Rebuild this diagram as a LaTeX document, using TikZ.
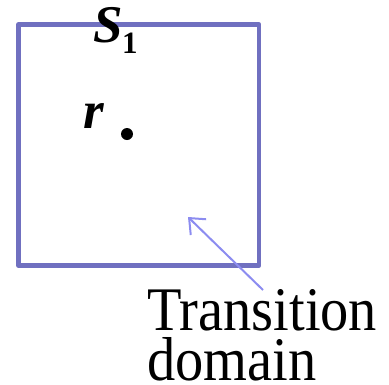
\documentclass[tikz,border=0pt]{standalone}
\usepackage{fontspec}
\setmainfont{Liberation Serif}
\newfontfamily\labfont[FakeStretch=0.91]{Liberation Serif}
\usetikzlibrary{arrows.meta}
\definecolor{boxcol}{RGB}{112,112,192}
\definecolor{arrcol}{RGB}{140,140,240}
\tikzset{
  boxstyle/.style={draw=boxcol, line width=4.5pt, line join=round},
  arrstyle/.style={draw=arrcol, line width=2pt, -{Straight Barb[length=13pt,width=22pt,line width=2pt]}},
  labstyle/.style={inner sep=0pt, font=\labfont\fontsize{62}{50}\selectfont, align=left},
  mathlab/.style={inner sep=0pt, font=\fontsize{53}{53}\selectfont\bfseries\itshape}
}
\begin{document}
\begin{tikzpicture}[x=1pt,y=-1pt]
\useasboundingbox (0,0) rectangle (389,384);
\draw[boxstyle] (18.5,24.5) rectangle (259,265.5);
\node[mathlab, anchor=base west] (s) at (93,42) {S};
\node[inner sep=0pt, anchor=base west, font=\fontsize{31}{31}\selectfont\bfseries] (s1) at (122,53) {1};
\node[mathlab, anchor=base west] (r) at (83,128) {r};
\fill (127,134) circle[radius=6pt] coordinate (dot);
\node[labstyle, anchor=base west] (lab) at (147,380) {Transition\\domain};
\coordinate (tip) at (188,217);
\coordinate (tail) at (263,290);
\draw[arrstyle] (tail) -- (tip);
\end{tikzpicture}
\end{document}
